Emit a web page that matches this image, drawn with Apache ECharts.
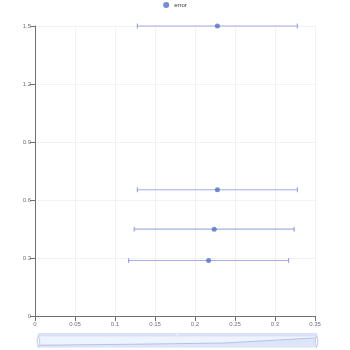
<!DOCTYPE html>
<html>
<head>
<meta charset="utf-8">
<script src="https://cdn.jsdelivr.net/npm/echarts@6/dist/echarts.min.js"></script>
<style>html,body{margin:0;padding:0;}#main{width:350px;height:350px;}</style>
</head>
<body>
<div id="main"></div>
<script>
var xValues = [0.217, 0.224, 0.228, 0.228];
var yValues = [0.287, 0.449, 0.653, 1.5];
var lowValues = [0.117, 0.124, 0.128, 0.128];
var highValues = [0.317, 0.324, 0.328, 0.328];

var points = xValues.map(function (x, i) { return [x, yValues[i]]; });
var bars = xValues.map(function (x, i) { return [lowValues[i], highValues[i], yValues[i]]; });

var chart = echarts.init(document.getElementById('main'));
chart.setOption({
  animation: false,
  legend: {
    data: ['error'],
    top: 2,
    padding: 0,
    itemWidth: 6,
    itemHeight: 6,
    itemGap: 4,
    textStyle: { fontSize: 6, color: '#333' }
  },
  grid: { left: 35, right: 35, top: 26, bottom: 34, containLabel: false },
  xAxis: {
    type: 'value',
    min: 0,
    max: 0.35,
    interval: 0.05,
    axisLine: { show: true, lineStyle: { color: '#6e7079' } },
    axisTick: { show: true },
    axisLabel: { fontSize: 6, color: '#6e7079', margin: 5 },
    splitLine: { show: true, lineStyle: { color: '#f2f2f6' } }
  },
  yAxis: {
    type: 'value',
    min: 0,
    max: 1.5,
    interval: 0.3,
    axisLine: { show: true, lineStyle: { color: '#6e7079' } },
    axisTick: { show: true },
    axisLabel: { fontSize: 6, color: '#6e7079', margin: 4 },
    splitLine: { show: true, lineStyle: { color: '#f2f2f6' } }
  },
  dataZoom: [{
    type: 'slider',
    xAxisIndex: 0,
    left: 35,
    right: 35,
    bottom: 5,
    height: 12,
    showDetail: false,
    moveHandleSize: 3,
    moveHandleStyle: { color: '#d9e1f7', opacity: 1 },
    handleSize: '100%',
    fillerColor: 'rgba(135,175,274,0.15)'
  }],
  series: [{
    type: 'scatter',
    name: 'error',
    data: points,
    symbolSize: 5,
    itemStyle: { color: '#5470c6' },
    z: 2
  }, {
    type: 'custom',
    name: 'bars',
    data: bars,
    renderItem: function (params, api) {
      var y = api.value(2);
      var p1 = api.coord([api.value(0), y]);
      var p2 = api.coord([api.value(1), y]);
      var h = 2.5;
      var style = { stroke: '#5470c6', lineWidth: 1.2, opacity: 0.55 };
      return {
        type: 'group',
        children: [
          { type: 'line', shape: { x1: p1[0], y1: p1[1], x2: p2[0], y2: p2[1] }, style: style },
          { type: 'line', shape: { x1: p1[0], y1: p1[1] - h, x2: p1[0], y2: p1[1] + h }, style: style },
          { type: 'line', shape: { x1: p2[0], y1: p2[1] - h, x2: p2[0], y2: p2[1] + h }, style: style }
        ]
      };
    },
    encode: { x: [0, 1], y: 2 },
    z: 1
  }]
});
</script>
</body>
</html>
